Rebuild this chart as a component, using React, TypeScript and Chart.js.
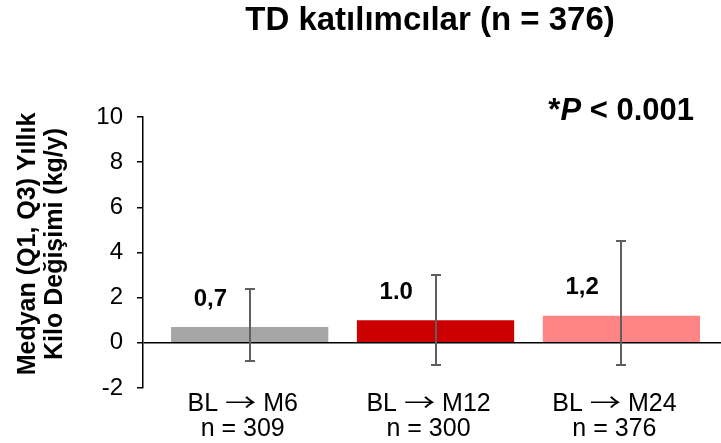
import React, { useEffect, useRef } from 'react';
import { Chart, registerables } from 'chart.js';

Chart.register(...registerables);

const FONT = '"Liberation Sans", Arial, Helvetica, sans-serif';
const ARROW_FONT = '"Noto Sans CJK SC", "DejaVu Sans", sans-serif';

const categoryStart = ['BL', 'BL', 'BL'];
const categoryEnd = ['M6', 'M12', 'M24'];
const categoryN = ['n = 309', 'n = 300', 'n = 376'];
const medians = [0.7, 1.0, 1.2];
const q1 = [-0.8, -1.0, -1.0];
const q3 = [2.4, 3.0, 4.5];
const valueLabels = ['0,7', '1.0', '1,2'];
const barColors = ['#A6A6A6', '#CC0000', '#FF8585'];
const yMin = -2;
const yMax = 10;
const yStep = 2;
const chartTitle = 'TD katılımcılar (n = 376)';
const yTitle = ['Medyan (Q1, Q3) Yıllık', 'Kilo Değişimi (kg/y)'];
const pNote = ['*', 'P', ' < 0.001'];

const overlay = {
  id: 'overlay',
  afterDatasetsDraw(chart: any) {
    const { ctx, chartArea } = chart;
    const x = chart.scales.x;
    const y = chart.scales.y;
    ctx.save();
    // error bars (Q1 - Q3)
    ctx.strokeStyle = '#5F5F5F';
    ctx.lineWidth = 2;
    medians.forEach((_, i) => {
      const px = Math.round(x.getPixelForValue(i));
      const top = Math.round(y.getPixelForValue(q3[i]));
      const bot = Math.round(y.getPixelForValue(q1[i]));
      ctx.beginPath();
      ctx.moveTo(px, top);
      ctx.lineTo(px, bot);
      ctx.moveTo(px - 5, top);
      ctx.lineTo(px + 5, top);
      ctx.moveTo(px - 5, bot);
      ctx.lineTo(px + 5, bot);
      ctx.stroke();
    });
    // value labels
    const meta = chart.getDatasetMeta(0);
    ctx.fillStyle = '#000';
    ctx.font = `bold 24px ${FONT}`;
    ctx.textAlign = 'center';
    ctx.textBaseline = 'middle';
    meta.data.forEach((bar: any, i: number) => {
      ctx.fillText(valueLabels[i], bar.x - bar.width * 0.25, bar.y - 28);
    });
    // category labels
    ctx.textBaseline = 'alphabetic';
    const arrowStretch = 1.3;
    categoryN.forEach((nText, i) => {
      const cx = x.getPixelForValue(i) - 7;
      const parts = [categoryStart[i] + ' ', '→', ' ' + categoryEnd[i]];
      const fonts = [`25px ${FONT}`, `24px ${ARROW_FONT}`, `25px ${FONT}`];
      const scales = [1, arrowStretch, 1];
      let total = 0;
      const ws = parts.map((p, k) => {
        ctx.font = fonts[k];
        const w = ctx.measureText(p).width * scales[k];
        total += w;
        return w;
      });
      let px = cx - total / 2;
      ctx.textAlign = 'left';
      parts.forEach((p, k) => {
        ctx.font = fonts[k];
        ctx.save();
        ctx.translate(px, chartArea.bottom + 23);
        ctx.scale(scales[k], 1);
        ctx.fillText(p, 0, 0);
        ctx.restore();
        px += ws[k];
      });
      ctx.font = `25px ${FONT}`;
      ctx.textAlign = 'center';
      ctx.fillText(nText, cx, chartArea.bottom + 48);
    });
    // y-axis title
    ctx.save();
    ctx.font = `bold 25px ${FONT}`;
    ctx.textAlign = 'center';
    ctx.textBaseline = 'alphabetic';
    ctx.translate(0, 244);
    ctx.rotate(-Math.PI / 2);
    ctx.fillText(yTitle[0], 0, 35);
    ctx.fillText(yTitle[1], 0, 61.5);
    ctx.restore();
    // chart title
    ctx.font = `bold 33px ${FONT}`;
    ctx.textAlign = 'center';
    ctx.textBaseline = 'alphabetic';
    ctx.fillText(chartTitle, (chartArea.left + chartArea.right) / 2 - 2, 30);
    // P note
    const fonts = [`bold 31px ${FONT}`, `italic bold 31px ${FONT}`, `bold 31px ${FONT}`];
    let total = 0;
    const widths = pNote.map((s, i) => {
      ctx.font = fonts[i];
      const w = ctx.measureText(s).width;
      total += w;
      return w;
    });
    let cx = chartArea.right - 27 - total;
    ctx.textAlign = 'left';
    pNote.forEach((s, i) => {
      ctx.font = fonts[i];
      ctx.fillText(s, cx, chartArea.top + 3);
      cx += widths[i];
    });
    ctx.restore();
  },
};

export default function App() {
  const ref = useRef<HTMLCanvasElement | null>(null);
  useEffect(() => {
    if (!ref.current) return;
    const chart = new Chart(ref.current, {
      type: 'bar',
      data: {
        datasets: [
          {
            data: medians.map((v, i) => ({ x: i, y: v })),
            backgroundColor: barColors,
            borderWidth: 0,
            barPercentage: 1,
            categoryPercentage: 0.846,
          },
        ],
      },
      options: {
        animation: false,
        responsive: false,
        events: [],
        layout: { padding: { top: 117, left: 0, right: 0, bottom: 0 } },
        plugins: {
          legend: { display: false },
          title: { display: false },
          tooltip: { enabled: false },
        },
        scales: {
          x: {
            type: 'linear',
            offset: false,
            min: -0.574,
            max: 2.536,
            grid: { display: false },
            border: { display: false },
            afterBuildTicks: (scale: any) => {
              scale.ticks = medians.map((_, i) => ({ value: i }));
            },
            afterFit: (scale: any) => {
              scale.height = 55;
            },
            ticks: { display: false },
          },
          y: {
            min: yMin,
            max: yMax,
            afterFit: (scale: any) => {
              scale.width = 143;
            },
            ticks: {
              stepSize: yStep,
              padding: 14,
              color: '#000',
              font: { family: FONT, size: 24 },
            },
            border: { display: true, color: '#000', width: 1.5 },
            grid: {
              drawTicks: true,
              tickLength: 6,
              tickColor: '#000',
              tickWidth: 1.5,
              lineWidth: 1.5,
              color: (c: any) => (c.tick && c.tick.value === 0 ? '#000' : 'rgba(0,0,0,0)'),
            },
            title: { display: false },
          },
        },
      },
      plugins: [overlay],
    } as any);
    return () => chart.destroy();
  }, []);
  return (
    <div style={{ position: 'fixed', left: 0, top: 0, width: 721, height: 443, background: '#fff' }}>
      <canvas ref={ref} width={721} height={443} />
    </div>
  );
}
